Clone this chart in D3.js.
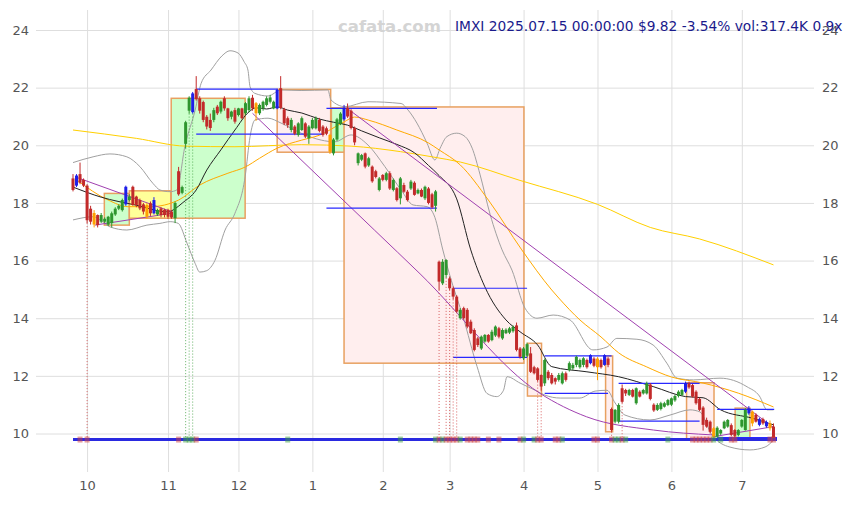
<!DOCTYPE html>
<html><head><meta charset="utf-8">
<script src="https://cdn.jsdelivr.net/npm/d3@7"></script>
<style>body{margin:0;background:#fff}svg{display:block}text{font-family:"DejaVu Sans",sans-serif}</style>
</head><body><svg id="c" width="853" height="505"></svg>
<script>
// ---------- category axis (trading-day index) ----------
const monthIdx = [4,27,47,68,88,107,128,149,170,190];
const monthLabels = ['10','11','12','1','2','3','4','5','6','7'];
const yTicks = [10,12,14,16,18,20,22,24];

// ---------- OHLC (200 trading days, 2024-09-25 .. 2025-07-15) ----------
const opens = [18.85,18.6,19.0,18.8,18.6,17.8,17.65,17.58,17.35,17.35,17.25,17.3,17.6,17.8,17.75,17.95,18.1,18.56,18.22,18.1,
17.95,17.93,17.99,17.64,17.6,17.81,17.76,17.76,17.7,17.47,19.1,18.35,20.05,21.2,21.15,21.95,21.63,21.5,20.99,20.88,
20.88,21.34,21.17,21.63,21.28,20.99,21.22,21.05,21.28,21.11,21.22,21.65,21.46,21.11,21.28,21.4,21.51,21.28,21.28,21.98,
21.25,20.94,20.53,20.65,20.36,20.53,20.76,20.24,20.59,20.59,20.88,20.65,20.59,20.36,19.72,20.2,20.75,20.9,21.3,21.2,
20.6,19.38,19.5,19.72,19.3,19.26,19.1,18.45,18.97,18.8,19.03,18.45,18.51,18.16,18.62,18.39,18.5,18.7,18.33,18.45,
18.16,18.5,18.3,17.9,15.96,15.21,15.5,15.38,15.04,14.75,14.0,14.35,14.29,13.88,13.59,13.3,12.95,13.19,13.42,13.24,
13.4,13.65,13.3,13.48,13.5,13.55,13.75,12.95,12.61,12.7,12.78,12.3,12.26,12.03,11.74,12.14,12.03,11.92,11.86,11.74,
12.09,12.2,12.26,12.38,12.3,12.38,12.55,12.44,12.6,12.6,12.55,12.38,12.6,10.85,10.41,10.41,11.57,11.51,11.34,11.51,
11.05,11.45,11.39,11.39,11.7,11.0,10.82,10.85,10.93,10.99,11.0,11.15,11.3,11.34,11.45,11.74,11.68,11.45,11.2,10.9,
10.47,10.41,10.18,9.89,10.0,10.18,10.24,10.29,10.12,9.95,10.24,10.12,10.7,10.76,10.65,10.3,10.5,10.25,10.35,10.24];
const highs = [19.0,19.0,19.4,18.85,18.65,17.9,17.75,17.6,17.65,17.5,17.55,17.7,17.85,17.95,18.15,18.6,18.3,18.6,18.25,18.15,
18.0,18.0,18.05,18.2,17.8,17.85,17.8,17.8,17.75,18.05,19.25,18.6,20.85,21.7,21.85,22.4,21.7,21.55,21.05,21.1,
21.3,21.4,21.55,21.7,21.3,21.2,21.3,21.3,21.3,21.5,21.7,21.75,21.5,21.45,21.55,21.7,21.75,21.55,21.95,22.4,
21.3,21.0,20.95,20.7,20.8,21.0,20.8,20.7,20.95,21.0,20.95,20.7,20.65,20.4,20.25,20.95,21.15,21.4,21.45,21.25,
20.65,19.75,19.7,19.75,19.6,19.3,19.15,18.9,19.0,19.08,19.1,18.85,18.55,18.9,18.7,18.45,18.8,18.75,18.5,18.5,
18.6,18.55,18.35,18.45,16.0,16.05,16.05,15.45,15.1,14.8,14.35,14.4,14.35,13.95,13.65,13.35,13.4,13.45,13.45,13.6,
13.75,13.7,13.65,13.65,13.7,13.75,13.85,13.0,13.0,13.15,13.0,12.35,12.3,12.05,12.6,12.2,12.1,11.95,12.1,12.15,
12.15,12.5,12.45,12.7,12.6,12.65,12.6,12.75,12.65,12.65,12.6,12.75,12.65,10.9,10.85,11.05,11.7,11.55,11.55,11.55,
11.6,11.5,11.55,11.8,11.75,11.05,11.05,11.1,11.1,11.2,11.25,11.35,11.5,11.55,11.8,11.8,11.72,11.5,11.25,10.95,
10.55,10.45,10.22,10.25,10.15,10.45,10.5,10.35,10.15,10.15,10.5,10.88,10.95,10.8,10.7,10.55,10.55,10.45,10.45,10.35];
const lows = [18.4,18.55,18.65,18.55,17.3,17.25,17.15,17.15,17.3,17.3,17.2,17.15,17.55,17.75,17.7,17.9,18.05,17.9,17.85,17.75,
17.6,17.45,17.55,17.6,17.55,17.5,17.5,17.45,17.45,17.3,18.25,18.3,19.9,21.1,21.1,21.55,21.1,20.8,20.55,20.5,
20.8,21.05,21.1,21.2,20.85,20.9,20.75,21.0,20.9,21.05,21.15,21.2,20.85,21.05,21.2,21.35,21.45,21.25,21.25,21.25,
20.7,20.6,20.45,20.35,20.3,20.5,20.25,20.05,20.55,20.55,20.45,20.3,20.35,19.7,19.65,20.15,20.7,20.85,20.95,20.55,
20.0,19.3,19.45,19.2,19.25,18.7,18.85,18.4,18.75,18.75,18.45,18.4,18.05,17.95,18.35,18.05,18.45,18.25,18.3,18.2,
18.1,17.95,17.8,17.7,14.98,15.15,15.4,14.98,14.65,14.2,13.95,13.95,13.65,13.45,12.85,13.0,12.9,13.15,13.15,13.2,
13.35,13.3,13.25,13.45,13.45,13.5,12.85,12.6,12.55,12.65,12.1,12.05,11.8,11.5,11.65,11.85,11.7,11.7,11.8,11.7,
11.8,12.15,12.2,12.3,12.25,12.3,12.25,12.4,12.3,11.85,12.25,12.35,12.3,10.06,10.35,10.35,11.05,11.3,11.3,11.25,
11.0,11.25,11.35,11.35,11.15,10.75,10.78,10.8,10.9,10.95,10.95,11.1,11.25,11.3,11.4,11.55,11.25,11.0,10.78,10.1,
10.2,10.0,9.8,9.85,9.95,10.15,10.2,9.9,9.85,9.9,10.2,10.1,10.65,10.25,10.38,10.25,10.3,10.2,10.1,9.78];
const closes = [18.45,18.95,18.7,18.6,17.4,17.35,17.25,17.23,17.58,17.45,17.52,17.64,17.8,17.9,18.1,18.56,18.22,17.93,17.93,17.81,
17.7,17.52,17.64,18.1,17.75,17.58,17.58,17.52,17.5,18.0,18.3,18.55,20.8,21.65,21.8,21.6,21.2,20.88,20.65,20.6,
21.22,21.11,21.51,21.28,20.94,21.17,20.82,21.28,20.94,21.46,21.63,21.28,21.11,21.4,21.51,21.63,21.66,21.51,21.92,21.3,
20.76,20.7,20.88,20.4,20.76,20.94,20.3,20.65,20.88,20.94,20.5,20.36,20.4,19.78,20.2,20.9,21.1,21.3,21.0,20.6,
20.1,19.72,19.66,19.26,19.55,18.75,18.9,18.85,18.8,19.03,18.5,18.8,18.1,18.85,18.39,18.1,18.74,18.28,18.45,18.22,
18.56,18.0,17.85,18.4,15.27,15.96,16.02,15.04,14.75,14.23,14.29,14.0,13.71,13.48,12.9,13.07,13.36,13.42,13.19,13.53,
13.71,13.36,13.59,13.6,13.65,13.7,12.9,12.66,12.95,13.1,12.14,12.09,11.86,11.63,12.55,11.92,11.74,11.8,12.03,12.09,
11.86,12.44,12.38,12.66,12.55,12.61,12.3,12.72,12.35,12.3,12.3,12.72,12.38,10.12,10.82,10.99,11.1,11.39,11.51,11.28,
11.57,11.28,11.51,11.74,11.2,10.8,10.99,11.05,11.05,11.16,11.22,11.3,11.45,11.51,11.74,11.6,11.28,11.05,10.82,10.3,
10.24,10.06,9.89,10.2,10.12,10.41,10.47,9.95,9.92,10.12,10.47,10.82,10.87,10.35,10.41,10.5,10.35,10.4,10.18,9.82];
const blueIdx = [1,15,23,34,58,77,147,151,174,192,195,197];
const orangeIdx = [6,21,52,73,149,182,193,198];

// ---------- indicator lines: [dayIndex, price] ----------
const ma20 = [[0,18.55],[8,18.2],[17.6,17.93],[27,17.69],[29,17.8],[31,17.99],[35,18.45],[38,19.14],[42,19.84],[46,20.53],[50,21.16],[52,21.3],[55,21.26],[58,21.33],[61,21.22],[65,21.12],[70,20.91],[74,20.8],[78,20.7],[82,20.5],[87,20.26],[92,20.03],[97,19.74],[101,19.3],[104,18.95],[109,18.14],[113,16.37],[117,15.09],[123,13.94],[127,13.53],[132,13.07],[136,12.32],[146,12.14],[155,11.97],[165,11.62],[174,11.28],[179,11.24],[184,10.82],[193,10.53],[199,10.3]];
const ma50 = [[1,18.8],[10,18.1],[15.6,17.87],[22,17.87],[30,18.1],[36,18.62],[44,19.03],[49,19.25],[53,19.55],[58,19.9],[65,20.18],[70,20.35],[77,20.81],[80,20.98],[84,20.87],[92,20.53],[101,20.08],[104,19.84],[110,19.32],[118,18.1],[127.5,16.37],[136,14.98],[138,14.7],[144,13.94],[150,13.35],[155,12.8],[163,12.31],[170,11.96],[179,11.75],[189,11.4],[199,10.92]];
const ma200 = [[0,20.53],[18,20.24],[32,19.97],[46,19.95],[65,20.02],[79,19.97],[93,19.78],[102,19.6],[110,19.42],[127,18.78],[149,17.95],[164,17.15],[178,16.75],[199,15.85]];
const bbUpper = [[0,19.4],[5.7,19.6],[10.5,19.7],[15.3,19.6],[19,19.26],[22.7,18.68],[24.7,18.45],[27.6,18.39],[29.5,18.45],[31.8,19.97],[34.7,21.22],[36.4,22.15],[39.2,22.61],[42.3,23.1],[44.6,23.28],[46.9,23.2],[48.6,22.9],[49.7,22.61],[50.3,22.03],[51.7,21.8],[55.4,21.71],[59.1,21.92],[64.8,21.9],[72.4,21.92],[73.3,21.57],[77.3,21.34],[83.8,21.51],[93.2,21.45],[95.2,21.22],[97.7,20.77],[100.6,20.07],[102.8,19.49],[104.3,19.9],[106.2,20.3],[109,20.42],[111.4,20.3],[113.4,19.9],[115.6,19.0],[118.5,17.6],[121.9,16.37],[124.7,15.67],[128.4,14.35],[131.8,14.0],[136.4,14.11],[141.2,13.94],[147.7,12.9],[151.7,13.0],[154.5,13.3],[160.2,13.27],[164.8,13.07],[168.7,12.44],[171.6,11.92],[176.3,11.86],[183.8,11.92],[191.5,11.62],[195,11.3],[197.2,10.82],[199,10.82]];
const bbLower = [[0,17.41],[5.7,17.52],[10.5,17.17],[15.3,17.06],[21,17.23],[24.7,17.29],[27.6,17.35],[29.9,17.29],[32.4,16.6],[34.7,15.9],[36,15.6],[38,15.65],[40.3,16.0],[43.2,17.06],[46,17.64],[48.9,18.91],[50.3,20.3],[51.7,20.88],[55.4,20.94],[59.1,20.77],[64.8,20.42],[70.5,20.18],[74.4,20.12],[79,20.36],[83.8,20.01],[88.6,19.26],[93.2,18.45],[96.6,17.93],[100.6,17.87],[102.8,17.5],[105,16.4],[107.5,15.3],[110.8,14.05],[114.8,12.32],[117.6,11.39],[120.4,11.28],[122.3,11.5],[123.3,11.97],[127,11.75],[131.3,11.5],[134.1,11.33],[138.4,11.23],[144,11.23],[148.3,11.47],[151.7,11.5],[154,11.06],[156.8,10.64],[163.9,10.47],[169.6,10.64],[175.3,10.82],[178.1,10.75],[181.5,9.95],[186.6,9.53],[192.3,9.43],[196.6,9.53],[199,9.77]];

// ---------- pattern boxes: [startIdx, endIdx, top, bottom, kind] ----------
const boxes = [[8.9,16.0,18.33,17.23,'g'],[16.0,27.8,18.42,17.47,'y'],[27.9,48.9,21.63,17.47,'g'],[58.0,73.2,21.94,19.76,'p'],[73.4,77.2,21.3,19.76,'g'],[77.0,128.1,21.33,12.44,'p'],[129.1,133.1,13.13,11.3,'p'],[151.3,153.3,12.69,10.06,'p'],[174.3,182.1,11.76,9.77,'p'],[188.1,192.3,10.88,9.77,'g']];
// ---------- blue support / resistance segments: [startIdx, endIdx, price] ----------
const levels = [[35,58.2,21.95],[35,71,20.39],[72,103.4,21.28],[72,103.4,17.82],[108,129,15.04],[108,129,12.64],[134,153,12.69],[134,152,11.39],[155,178,11.74],[155,178,10.43],[183,199.2,10.84],[183,200,9.86]];
// ---------- purple trend lines ----------
const trendLines = [[[1.4,18.87],[27.9,17.7]],[[6.2,17.23],[27.9,17.64]],[[51,21.11],[85.7,17.05],[98.6,15.54],[132.7,11.39],[145.9,10.58],[164.9,10.12],[181.9,9.95]],[[77.8,21.29],[199,10.21]],[[182,9.89],[199,10.24]]];
// ---------- signal markers on base line ----------
const dottedRed = [4,104,106,107,108,109,132,133,153,156];
const dottedGreen = [32,33,34];
const markers = [[2,'r'],[4,'r'],[30,'r'],[32,'g'],[33,'g'],[34,'g'],[35,'r'],[61,'g'],[93,'g'],[103,'g'],[104,'r'],[105,'g'],[106,'r'],[107,'r'],[108,'r'],[109,'r'],[110,'g'],[112,'r'],[113,'r'],[114,'r'],[115,'r'],[118,'r'],[121,'r'],[127,'r'],[128,'g'],[131,'g'],[132,'r'],[133,'r'],[137,'r'],[138,'r'],[139,'g'],[148,'r'],[149,'r'],[153,'r'],[154,'g'],[155,'g'],[156,'r'],[157,'g'],[169,'g'],[176,'r'],[177,'r'],[178,'r'],[179,'r'],[180,'r'],[181,'r'],[182,'g'],[184,'g'],[187,'r'],[188,'r'],[198,'r'],[199,'r']];
const basePrice = 9.79;
const titleText = 'IMXI 2025.07.15 00:00:00 $9.82 -3.54% vol:317.4K 0.9x';

// ---------- drawing ----------
const svg = d3.select('#c');
const x = d3.scaleLinear().domain([0,199]).range([73,773.5]);
const y = d3.scaleLinear().domain([10,24]).range([433.5,30]);

const gx = svg.append('g').attr('transform','translate(0,472)')
  .call(d3.axisBottom(x).tickValues(monthIdx).tickFormat((d,i)=>monthLabels[i]).tickSize(-462).tickPadding(9));
const gyl = svg.append('g').attr('transform','translate(36,0)')
  .call(d3.axisLeft(y).tickValues(yTicks).tickSize(-778).tickPadding(7));
const gyr = svg.append('g').attr('transform','translate(814,0)')
  .call(d3.axisRight(y).tickValues(yTicks).tickSize(0).tickPadding(8));
[gx,gyl,gyr].forEach(g=>{
  g.select('.domain').remove();
  g.selectAll('line').attr('stroke','#dedede');
  g.selectAll('text').attr('fill','#555').style('font-size','13px');
});

const fills = {g:'#ccffcc', y:'#ffff99', p:'#ffeeee'};
svg.append('g').selectAll('rect').data(boxes).join('rect')
  .attr('x',d=>x(d[0])).attr('width',d=>x(d[1])-x(d[0]))
  .attr('y',d=>y(d[2])).attr('height',d=>y(d[3])-y(d[2]))
  .attr('fill',d=>fills[d[4]]).attr('stroke','#e8a060').attr('stroke-width',1.5);

const ln = d3.line().x(d=>x(d[0])).y(d=>y(d[1])).curve(d3.curveMonotoneX);
[[bbUpper,'#a0a0a0'],[bbLower,'#a0a0a0'],[ma200,'#ffd000'],[ma50,'#ffaa00'],[ma20,'#222']].forEach(([d,c])=>{
  svg.append('path').attr('d',ln(d)).attr('fill','none').attr('stroke',c).attr('stroke-width',1);
});

trendLines.forEach(t=>svg.append('path').attr('d',ln(t)).attr('fill','none').attr('stroke','#a040b0').attr('stroke-width',1));

svg.append('g').selectAll('line').data(levels).join('line')
  .attr('x1',d=>x(d[0])).attr('x2',d=>x(d[1])).attr('y1',d=>y(d[2])).attr('y2',d=>y(d[2]))
  .attr('stroke','#2828ff').attr('stroke-width',1.2);

// dotted signal lines
const dl = svg.append('g');
dottedRed.forEach(i=>dl.append('line').attr('x1',x(i)).attr('x2',x(i)).attr('y1',y(lows[i])).attr('y2',y(basePrice))
  .attr('stroke','#d04040').attr('stroke-dasharray','1,2').attr('stroke-width',1).attr('opacity',0.8));
dottedGreen.forEach(i=>dl.append('line').attr('x1',x(i)).attr('x2',x(i)).attr('y1',y(lows[i])).attr('y2',y(basePrice))
  .attr('stroke','#40a040').attr('stroke-dasharray','1,2').attr('stroke-width',1).attr('opacity',0.8));

// candles
const idx = d3.range(closes.length);
const col = i => blueIdx.includes(i) ? '#1e1ee8' : orangeIdx.includes(i) ? '#ffa000' : (closes[i]>=opens[i] ? '#2e962e' : '#c22a2a');
const cg = svg.append('g');
cg.selectAll('line').data(idx).join('line')
  .attr('x1',i=>x(i)).attr('x2',i=>x(i)).attr('y1',i=>y(highs[i])).attr('y2',i=>y(lows[i]))
  .attr('stroke',col).attr('stroke-width',1);
cg.selectAll('rect').data(idx).join('rect')
  .attr('x',i=>x(i)-1.5).attr('width',3)
  .attr('y',i=>y(Math.max(opens[i],closes[i])))
  .attr('height',i=>Math.max(1,Math.abs(y(opens[i])-y(closes[i]))))
  .attr('fill',col);

// base line and markers
svg.append('line').attr('x1',x(0)).attr('x2',777).attr('y1',y(basePrice)).attr('y2',y(basePrice))
  .attr('stroke','#2a2ae0').attr('stroke-width',3);
svg.append('g').selectAll('rect').data(markers).join('rect')
  .attr('x',d=>x(d[0])-2.5).attr('y',y(basePrice)-3).attr('width',5).attr('height',6)
  .attr('fill',d=>d[1]==='r'?'#d04040':'#40a040').attr('opacity',0.5);

// texts
svg.append('text').attr('x',338).attr('y',32).text('cafata.com')
  .attr('fill','#d4d4d4').style('font-size','16.5px').style('font-weight','bold');
svg.append('text').attr('x',455).attr('y',31).text(titleText)
  .attr('fill','#1a1a8c').style('font-size','13.75px');
</script></body></html>
